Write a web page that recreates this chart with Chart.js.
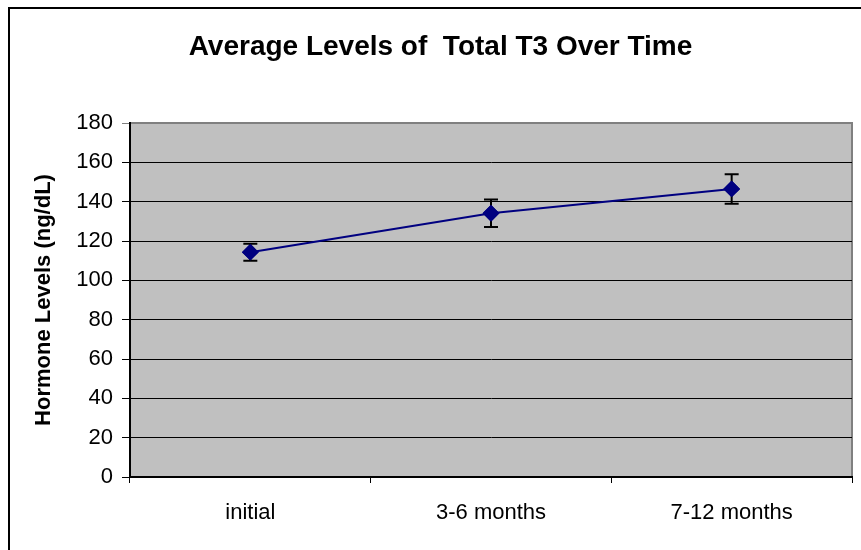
<!DOCTYPE html>
<html>
<head>
<meta charset="utf-8">
<script src="https://cdn.jsdelivr.net/npm/chart.js@4/dist/chart.umd.min.js"></script>
<style>
  body { margin: 0; background: #fff; }
  #wrap { width: 861px; height: 550px; position: relative; }
</style>
</head>
<body>
<div id="wrap"><canvas id="t3chart"></canvas></div>
<script>
var periods = ['initial', '3-6 months', '7-12 months'];
var avgT3 = [114.3, 134.1, 146.5];
var errT3 = [4.3, 7.0, 7.5];
var yTicks = [0, 20, 40, 60, 80, 100, 120, 140, 160, 180];

var FONT = "'Liberation Sans', Arial, sans-serif";

// gray plot area + outer frame
var backdrop = {
  id: 'backdrop',
  beforeDraw: function(chart) {
    var ctx = chart.ctx, a = chart.chartArea;
    ctx.save();
    ctx.fillStyle = '#c0c0c0';
    ctx.fillRect(a.left, a.top, a.right - a.left, a.bottom - a.top);
    ctx.strokeStyle = '#808080';
    ctx.lineWidth = 2;
    ctx.beginPath();
    ctx.moveTo(a.left, a.top);
    ctx.lineTo(a.right, a.top);
    ctx.lineTo(a.right, a.bottom);
    ctx.stroke();
    ctx.strokeStyle = '#000';
    ctx.lineWidth = 2;
    ctx.strokeRect(9, 8, 900, 600);
    ctx.restore();
  }
};

// error bars from errT3
var errorBars = {
  id: 'errorBars',
  afterDatasetsDraw: function(chart) {
    var ctx = chart.ctx, x = chart.scales.x, y = chart.scales.y;
    ctx.save();
    ctx.strokeStyle = '#000';
    ctx.lineWidth = 2;
    for (var i = 0; i < avgT3.length; i++) {
      var px = x.getPixelForValue(i);
      var top = y.getPixelForValue(avgT3[i] + errT3[i]);
      var bot = y.getPixelForValue(avgT3[i] - errT3[i]);
      ctx.beginPath();
      ctx.moveTo(px, top); ctx.lineTo(px, bot);
      ctx.moveTo(px - 7, top); ctx.lineTo(px + 7, top);
      ctx.moveTo(px - 7, bot); ctx.lineTo(px + 7, bot);
      ctx.stroke();
    }
    // redraw markers on top of the bars
    var meta = chart.getDatasetMeta(0);
    meta.data.forEach(function(pt) { pt.draw(ctx, chart.chartArea); });
    ctx.restore();
  }
};

new Chart(document.getElementById('t3chart'), {
  type: 'line',
  plugins: [backdrop, errorBars],
  data: {
    labels: periods,
    datasets: [{
      data: avgT3,
      borderColor: '#000080',
      backgroundColor: '#000080',
      borderWidth: 2,
      pointStyle: 'rectRot',
      pointRadius: 7,
      pointHoverRadius: 7,
      tension: 0
    }]
  },
  options: {
    responsive: true,
    maintainAspectRatio: false,
    animation: false,
    layout: { padding: { left: 26, right: 6, top: 0, bottom: 0 } },
    plugins: {
      legend: { display: false },
      tooltip: { enabled: false },
      title: {
        display: true,
        text: 'Average Levels of  Total T3 Over Time',
        color: '#000',
        font: { family: FONT, size: 28, weight: 'bold', lineHeight: 1.2 },
        padding: { top: 30, bottom: 59.4 }
      }
    },
    scales: {
      x: {
        offset: true,
        grid: { offset: true, drawOnChartArea: false, color: '#000', tickLength: 6, tickWidth: 1 },
        border: { color: '#000', width: 2 },
        ticks: { color: '#000', font: { family: FONT, size: 22 }, padding: 17, maxRotation: 0 },
        afterFit: function(s) { s.height = 73; }
      },
      y: {
        min: 0, max: 180,
        afterBuildTicks: function(s) { s.ticks = yTicks.map(function(v) { return { value: v }; }); },
        grid: {
          color: function(c) { return c.tick && c.tick.value === 180 ? '#808080' : '#000'; },
          lineWidth: 1, tickLength: 8
        },
        border: { color: '#000', width: 2 },
        ticks: { color: '#000', font: { family: FONT, size: 22 }, padding: 9 },
        title: {
          display: true,
          text: 'Hormone Levels (ng/dL)',
          color: '#000',
          font: { family: FONT, size: 22, weight: 'bold' },
          padding: { top: 5, bottom: 4 }
        },
        afterFit: function(s) { s.width = 104; }
      }
    }
  }
});
</script>
</body>
</html>
